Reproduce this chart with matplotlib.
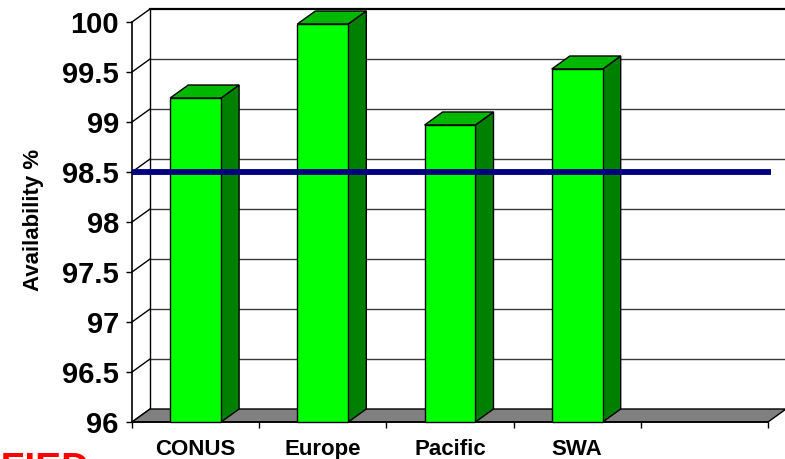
import matplotlib.pyplot as plt
from matplotlib.patches import Polygon
import numpy as np

plt.rcParams['font.family'] = ['Liberation Sans', 'DejaVu Sans']
plt.rcParams['font.weight'] = 'bold'

# data
regions = ['CONUS', 'Europe', 'Pacific', 'SWA']
availability = [99.24, 99.98, 98.97, 99.53]
goal = 98.5
n_slots = 5          # the chart keeps one empty category slot on the right
y_min, y_max = 96, 100
y_ticks = np.arange(96, 100.01, 0.5)
y_labels = ['96', '96.5', '97', '97.5', '98', '98.5', '99', '99.5', '100']

# 3D look: depth offset in data units
DX, DY = 0.142, 0.13
BAR_W = 0.4

fig = plt.figure(figsize=(7.85, 4.59), dpi=100)
W, H = 785, 459
ax = fig.add_axes([132 / W, (H - 422) / H, 636 / W, 400 / H])
ax.set_xlim(0, n_slots)
ax.set_ylim(y_min, y_max)

# back wall gridlines + side wall diagonals
for yv in y_ticks:
    c = 'black' if yv == y_max else '#3a3a3a'
    lw = 1.6 if yv == y_max else 1.0
    if yv > y_min:
        ax.plot([DX, n_slots + DX], [yv + DY, yv + DY], color=c, lw=lw,
                clip_on=False, zorder=1)
    ax.plot([0, DX], [yv, yv + DY], color='black', lw=1.0, clip_on=False, zorder=1)
ax.plot([DX, DX], [y_min + DY, y_max + DY], color='black', lw=1.0,
        clip_on=False, zorder=1)

# floor
floor = Polygon([(0, y_min), (n_slots, y_min), (n_slots + DX, y_min + DY),
                 (DX, y_min + DY)], closed=True, facecolor='#808080',
                edgecolor='black', lw=1.0, clip_on=False, zorder=2)
ax.add_patch(floor)

# bars
xs = np.arange(len(regions)) + 0.5
heights = np.array(availability) - y_min
ax.bar(xs, heights, bottom=y_min, width=BAR_W, color='#00ff00',
       edgecolor='black', lw=1.0, zorder=4, clip_on=False)
for x, v in zip(xs, availability):
    r = x + BAR_W / 2
    l = x - BAR_W / 2
    side = Polygon([(r, y_min), (r + DX, y_min + DY), (r + DX, v + DY), (r, v)],
                   closed=True, facecolor='#008000', edgecolor='black', lw=1.0,
                   clip_on=False, zorder=3)
    top = Polygon([(l, v), (r, v), (r + DX, v + DY), (l + DX, v + DY)],
                  closed=True, facecolor='#00b800', edgecolor='black', lw=1.0,
                  clip_on=False, zorder=3)
    ax.add_patch(side)
    ax.add_patch(top)

# goal line
ax.hlines(goal, 0, n_slots + 0.02, color='#000080', lw=4.2, zorder=6, clip_on=False)

# axes styling
for s in ['top', 'right']:
    ax.spines[s].set_visible(False)
ax.spines['left'].set_linewidth(1.2)
ax.spines['bottom'].set_linewidth(1.2)
ax.patch.set_alpha(0)

ax.set_yticks(y_ticks)
ax.set_yticklabels(y_labels, fontsize=21, fontweight='bold')
ax.tick_params(axis='y', direction='out', length=4.5, width=1.0, pad=5)

ax.set_xticks(np.arange(n_slots + 1))
ax.set_xticklabels([])
ax.tick_params(axis='x', which='major', direction='out', length=4, width=1.0)
ax.set_xticks(xs, minor=True)
ax.set_xticklabels(regions, minor=True, fontsize=16, fontweight='bold')
ax.tick_params(axis='x', which='minor', length=0, pad=12.5)

fig.text(33 / W, 1 - 220 / H, 'Availability %', rotation=90, ha='center',
         va='center', fontsize=16, fontweight='bold')

fig.text(90 / W, 1 - 452 / H, 'UNCLASSIFIED', ha='right', va='top',
         color='#ff0000', fontsize=28, fontweight='bold')

fig.savefig('out.png', dpi=100, facecolor='white')
